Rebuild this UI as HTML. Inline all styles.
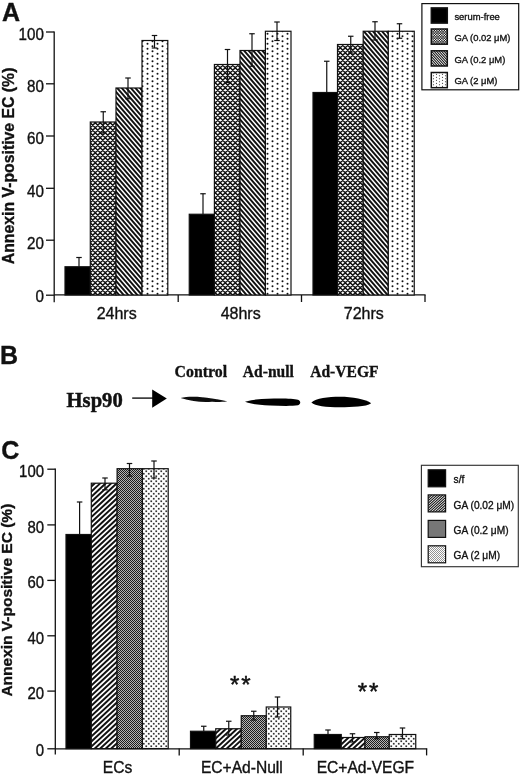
<!DOCTYPE html>
<html lang="en"><head><meta charset="utf-8"><title>Figure</title>
<style>
html,body{margin:0;padding:0;background:#fff;}
body{width:520px;height:775px;overflow:hidden;font-family:"Liberation Sans",Arial,sans-serif;}
svg{display:block;}
text{stroke:#111;stroke-width:0.35px;}
</style></head><body>
<svg width="520" height="775" viewBox="0 0 520 775">
<defs>
<pattern id="pCross" width="5" height="5" patternUnits="userSpaceOnUse"><rect width="5" height="5" fill="#fff"/><path d="M-15,-2 L-2,-15 M-19.5,-2 L-10.5,7 M-10,-2 L-2,-10 M-14.5,-2 L-5.5,7 M-5,-2 L-2,-5 M-9.5,-2 L-0.5,7 M0,-2 L-2,0 M-4.5,-2 L4.5,7 M5,-2 L-2,5 M0.5,-2 L9.5,7 M10,-2 L-2,10 M5.5,-2 L14.5,7 M15,-2 L-2,15 M10.5,-2 L19.5,7 M20,-2 L-2,20 M15.5,-2 L24.5,7 M25,-2 L-2,25 M20.5,-2 L29.5,7" stroke="#111" stroke-width="1.5" fill="none"/></pattern>
<pattern id="pCrossS" width="5" height="5" patternUnits="userSpaceOnUse"><rect width="5" height="5" fill="#151515"/><circle cx="0.62" cy="0.62" r="0.72" fill="#fff"/><circle cx="1.88" cy="1.88" r="0.72" fill="#fff"/><circle cx="0.62" cy="3.12" r="0.72" fill="#fff"/><circle cx="1.88" cy="4.38" r="0.72" fill="#fff"/><circle cx="3.12" cy="0.62" r="0.72" fill="#fff"/><circle cx="4.38" cy="1.88" r="0.72" fill="#fff"/><circle cx="3.12" cy="3.12" r="0.72" fill="#fff"/><circle cx="4.38" cy="4.38" r="0.72" fill="#fff"/></pattern>
<pattern id="pDiagA" width="91" height="21" patternUnits="userSpaceOnUse"><rect width="91" height="21" fill="#fff"/><path d="M-4.55,-120.75 L95.55,-5.25 M-4.55,-115.5 L95.55,0 M-4.55,-110.25 L95.55,5.25 M-4.55,-105 L95.55,10.5 M-4.55,-99.75 L95.55,15.75 M-4.55,-94.5 L95.55,21 M-4.55,-89.25 L95.55,26.25 M-4.55,-84 L95.55,31.5 M-4.55,-78.75 L95.55,36.75 M-4.55,-73.5 L95.55,42 M-4.55,-68.25 L95.55,47.25 M-4.55,-63 L95.55,52.5 M-4.55,-57.75 L95.55,57.75 M-4.55,-52.5 L95.55,63 M-4.55,-47.25 L95.55,68.25 M-4.55,-42 L95.55,73.5 M-4.55,-36.75 L95.55,78.75 M-4.55,-31.5 L95.55,84 M-4.55,-26.25 L95.55,89.25 M-4.55,-21 L95.55,94.5 M-4.55,-15.75 L95.55,99.75 M-4.55,-10.5 L95.55,105 M-4.55,-5.25 L95.55,110.25 M-4.55,0 L95.55,115.5 M-4.55,5.25 L95.55,120.75 M-4.55,10.5 L95.55,126 M-4.55,15.75 L95.55,131.25 M-4.55,21 L95.55,136.5 M-4.55,26.25 L95.55,141.75 M-4.55,31.5 L95.55,147 M-4.55,36.75 L95.55,152.25 M-4.55,42 L95.55,157.5 M-4.55,47.25 L95.55,162.75 M-4.55,52.5 L95.55,168 M-4.55,57.75 L95.55,173.25 M-4.55,63 L95.55,178.5 M-4.55,68.25 L95.55,183.75 M-4.55,73.5 L95.55,189 M-4.55,78.75 L95.55,194.25 M-4.55,84 L95.55,199.5 M-4.55,89.25 L95.55,204.75 M-4.55,94.5 L95.55,210 M-4.55,99.75 L95.55,215.25 M-4.55,105 L95.55,220.5 M-4.55,110.25 L95.55,225.75 M-4.55,115.5 L95.55,231 M-4.55,120.75 L95.55,236.25 M-4.55,126 L95.55,241.5 M-4.55,131.25 L95.55,246.75" stroke="#111" stroke-width="1.95" fill="none"/></pattern>
<pattern id="pDiagAS" width="10" height="11" patternUnits="userSpaceOnUse"><rect width="10" height="11" fill="#fff"/><path d="M-2.5,-19.25 L12.5,-2.75 M-2.5,-16.5 L12.5,0 M-2.5,-13.75 L12.5,2.75 M-2.5,-11 L12.5,5.5 M-2.5,-8.25 L12.5,8.25 M-2.5,-5.5 L12.5,11 M-2.5,-2.75 L12.5,13.75 M-2.5,0 L12.5,16.5 M-2.5,2.75 L12.5,19.25 M-2.5,5.5 L12.5,22 M-2.5,8.25 L12.5,24.75 M-2.5,11 L12.5,27.5 M-2.5,13.75 L12.5,30.25 M-2.5,16.5 L12.5,33 M-2.5,19.25 L12.5,35.75 M-2.5,22 L12.5,38.5 M-2.5,24.75 L12.5,41.25" stroke="#111" stroke-width="1.05" fill="none"/></pattern>
<pattern id="pDotA" width="10" height="5" patternUnits="userSpaceOnUse"><rect width="10" height="5" fill="#fff"/><circle cx="2.5" cy="1.25" r="1.0" fill="#111"/><circle cx="7.5" cy="3.75" r="1.0" fill="#111"/></pattern>
<pattern id="pDotAS" width="6" height="3" patternUnits="userSpaceOnUse"><rect width="6" height="3" fill="#fff"/><circle cx="1.5" cy="0.75" r="0.6" fill="#222"/><circle cx="4.5" cy="2.25" r="0.6" fill="#222"/></pattern>
<pattern id="pDiagC" width="11" height="51" patternUnits="userSpaceOnUse"><rect width="11" height="51" fill="#fff"/><path d="M-5.5,-15.3 L16.5,-35.7 M-5.5,-10.2 L16.5,-30.6 M-5.5,-5.1 L16.5,-25.5 M-5.5,0 L16.5,-20.4 M-5.5,5.1 L16.5,-15.3 M-5.5,10.2 L16.5,-10.2 M-5.5,15.3 L16.5,-5.1 M-5.5,20.4 L16.5,0 M-5.5,25.5 L16.5,5.1 M-5.5,30.6 L16.5,10.2 M-5.5,35.7 L16.5,15.3 M-5.5,40.8 L16.5,20.4 M-5.5,45.9 L16.5,25.5 M-5.5,51 L16.5,30.6 M-5.5,56.1 L16.5,35.7 M-5.5,61.2 L16.5,40.8 M-5.5,66.3 L16.5,45.9 M-5.5,71.4 L16.5,51 M-5.5,76.5 L16.5,56.1" stroke="#111" stroke-width="1.95" fill="none"/></pattern>
<pattern id="pDiagCS" width="11" height="10" patternUnits="userSpaceOnUse"><rect width="11" height="10" fill="#fff"/><path d="M-2.75,-12.5 L13.75,-27.5 M-2.75,-10 L13.75,-25 M-2.75,-7.5 L13.75,-22.5 M-2.75,-5 L13.75,-20 M-2.75,-2.5 L13.75,-17.5 M-2.75,0 L13.75,-15 M-2.75,2.5 L13.75,-12.5 M-2.75,5 L13.75,-10 M-2.75,7.5 L13.75,-7.5 M-2.75,10 L13.75,-5 M-2.75,12.5 L13.75,-2.5 M-2.75,15 L13.75,0 M-2.75,17.5 L13.75,2.5 M-2.75,20 L13.75,5 M-2.75,22.5 L13.75,7.5 M-2.75,25 L13.75,10 M-2.75,27.5 L13.75,12.5" stroke="#111" stroke-width="1.05" fill="none"/></pattern>
<pattern id="pGrayC" width="2" height="2" patternUnits="userSpaceOnUse" shape-rendering="crispEdges"><rect width="2" height="2" fill="#b4b4b4"/><rect width="1" height="1" fill="#1c1c1c"/><rect x="1" y="1" width="1" height="1" fill="#1c1c1c"/></pattern>
<pattern id="pDotC" width="5" height="5" patternUnits="userSpaceOnUse"><rect width="5" height="5" fill="#fff"/><rect x="0.4" y="0.4" width="1.7" height="1.7" fill="#333"/><rect x="2.9" y="2.9" width="1.7" height="1.7" fill="#333"/></pattern>
<pattern id="pDotCS" width="2" height="2" patternUnits="userSpaceOnUse"><rect width="2" height="2" fill="#fff"/><rect x="0.1" y="0.1" width="0.8" height="0.8" fill="#555"/><rect x="1.1" y="1.1" width="0.8" height="0.8" fill="#555"/></pattern>
<filter id="blur1" x="-20%" y="-150%" width="140%" height="400%"><feGaussianBlur stdDeviation="0.6"/></filter>
<filter id="blur2" x="-20%" y="-100%" width="140%" height="300%"><feGaussianBlur stdDeviation="0.7"/></filter>
</defs>
<rect width="520" height="775" fill="#fff"/>
<text x="1.9" y="20.8" font-size="25" text-anchor="start" font-family="Liberation Sans, Arial, sans-serif" font-weight="bold" fill="#111" >A</text>
<line x1="54.2" y1="31.4" x2="54.2" y2="302.3" stroke="#111" stroke-width="1.3"/>
<line x1="46" y1="32" x2="54.2" y2="32" stroke="#111" stroke-width="1.3"/>
<text transform="translate(43.9,40.2) scale(0.95,1)" font-size="16" text-anchor="end" font-family="Liberation Sans, Arial, sans-serif" fill="#111" >100</text>
<line x1="46" y1="83.8" x2="54.2" y2="83.8" stroke="#111" stroke-width="1.3"/>
<text transform="translate(43.9,91.6) scale(0.95,1)" font-size="16" text-anchor="end" font-family="Liberation Sans, Arial, sans-serif" fill="#111" >80</text>
<line x1="46" y1="136" x2="54.2" y2="136" stroke="#111" stroke-width="1.3"/>
<text transform="translate(43.9,144.2) scale(0.95,1)" font-size="16" text-anchor="end" font-family="Liberation Sans, Arial, sans-serif" fill="#111" >60</text>
<line x1="46" y1="188.3" x2="54.2" y2="188.3" stroke="#111" stroke-width="1.3"/>
<text transform="translate(43.9,196.5) scale(0.95,1)" font-size="16" text-anchor="end" font-family="Liberation Sans, Arial, sans-serif" fill="#111" >40</text>
<line x1="46" y1="240.2" x2="54.2" y2="240.2" stroke="#111" stroke-width="1.3"/>
<text transform="translate(43.9,248.7) scale(0.95,1)" font-size="16" text-anchor="end" font-family="Liberation Sans, Arial, sans-serif" fill="#111" >20</text>
<line x1="46" y1="295.2" x2="54.2" y2="295.2" stroke="#111" stroke-width="1.3"/>
<text transform="translate(43.9,302.2) scale(0.95,1)" font-size="16" text-anchor="end" font-family="Liberation Sans, Arial, sans-serif" fill="#111" >0</text>
<line x1="54.2" y1="294.9" x2="425.6" y2="294.9" stroke="#111" stroke-width="1.4"/>
<line x1="178.2" y1="295" x2="178.2" y2="302" stroke="#111" stroke-width="1.3"/>
<line x1="301.5" y1="295" x2="301.5" y2="302" stroke="#111" stroke-width="1.3"/>
<line x1="425" y1="295" x2="425" y2="302" stroke="#111" stroke-width="1.3"/>
<text transform="translate(14.1,264.2) rotate(-90)" font-size="15.8" font-weight="bold" font-family="Liberation Sans, Arial, sans-serif" fill="#111">Annexin V-positive EC (%)</text>
<rect x="65" y="266.75" width="25.3" height="28.25" fill="#000" stroke="#111" stroke-width="1.2"/>
<rect x="90.3" y="122" width="25.7" height="173" fill="url(#pCross)" stroke="#111" stroke-width="1.2"/>
<rect x="116" y="88" width="26" height="207" fill="url(#pDiagA)" stroke="#111" stroke-width="1.2"/>
<rect x="142" y="40.5" width="25.8" height="254.5" fill="url(#pDotA)" stroke="#111" stroke-width="1.2"/>
<rect x="189.25" y="214.25" width="25.15" height="80.75" fill="#000" stroke="#111" stroke-width="1.2"/>
<rect x="214.4" y="64.5" width="25.6" height="230.5" fill="url(#pCross)" stroke="#111" stroke-width="1.2"/>
<rect x="240" y="50.5" width="25.4" height="244.5" fill="url(#pDiagA)" stroke="#111" stroke-width="1.2"/>
<rect x="265.4" y="31.25" width="25.6" height="263.75" fill="url(#pDotA)" stroke="#111" stroke-width="1.2"/>
<rect x="313" y="92.5" width="24.5" height="202.5" fill="#000" stroke="#111" stroke-width="1.2"/>
<rect x="337.5" y="44.5" width="25.7" height="250.5" fill="url(#pCross)" stroke="#111" stroke-width="1.2"/>
<rect x="363.2" y="31.25" width="25.1" height="263.75" fill="url(#pDiagA)" stroke="#111" stroke-width="1.2"/>
<rect x="388.3" y="31.25" width="25.95" height="263.75" fill="url(#pDotA)" stroke="#111" stroke-width="1.2"/>
<line x1="79" y1="257.5" x2="79" y2="266.75" stroke="#111" stroke-width="1.2"/>
<line x1="76.25" y1="257.5" x2="81.75" y2="257.5" stroke="#111" stroke-width="1.2"/>
<line x1="103.25" y1="111.75" x2="103.25" y2="133" stroke="#111" stroke-width="1.2"/>
<line x1="100.5" y1="111.75" x2="106" y2="111.75" stroke="#111" stroke-width="1.2"/>
<line x1="100.5" y1="133" x2="106" y2="133" stroke="#111" stroke-width="1.2"/>
<line x1="128" y1="78" x2="128" y2="98.75" stroke="#111" stroke-width="1.2"/>
<line x1="125.25" y1="78" x2="130.75" y2="78" stroke="#111" stroke-width="1.2"/>
<line x1="125.25" y1="98.75" x2="130.75" y2="98.75" stroke="#111" stroke-width="1.2"/>
<line x1="154.5" y1="35.5" x2="154.5" y2="48" stroke="#111" stroke-width="1.2"/>
<line x1="151.75" y1="35.5" x2="157.25" y2="35.5" stroke="#111" stroke-width="1.2"/>
<line x1="151.75" y1="48" x2="157.25" y2="48" stroke="#111" stroke-width="1.2"/>
<line x1="203" y1="193.75" x2="203" y2="214.25" stroke="#111" stroke-width="1.2"/>
<line x1="200.25" y1="193.75" x2="205.75" y2="193.75" stroke="#111" stroke-width="1.2"/>
<line x1="227.5" y1="49.5" x2="227.5" y2="82.5" stroke="#111" stroke-width="1.2"/>
<line x1="224.75" y1="49.5" x2="230.25" y2="49.5" stroke="#111" stroke-width="1.2"/>
<line x1="224.75" y1="82.5" x2="230.25" y2="82.5" stroke="#111" stroke-width="1.2"/>
<line x1="252" y1="33.75" x2="252" y2="66.25" stroke="#111" stroke-width="1.2"/>
<line x1="249.25" y1="33.75" x2="254.75" y2="33.75" stroke="#111" stroke-width="1.2"/>
<line x1="249.25" y1="66.25" x2="254.75" y2="66.25" stroke="#111" stroke-width="1.2"/>
<line x1="277" y1="22" x2="277" y2="40.5" stroke="#111" stroke-width="1.2"/>
<line x1="274.25" y1="22" x2="279.75" y2="22" stroke="#111" stroke-width="1.2"/>
<line x1="274.25" y1="40.5" x2="279.75" y2="40.5" stroke="#111" stroke-width="1.2"/>
<line x1="326.75" y1="61.25" x2="326.75" y2="92.5" stroke="#111" stroke-width="1.2"/>
<line x1="324" y1="61.25" x2="329.5" y2="61.25" stroke="#111" stroke-width="1.2"/>
<line x1="350.75" y1="36.25" x2="350.75" y2="53" stroke="#111" stroke-width="1.2"/>
<line x1="348" y1="36.25" x2="353.5" y2="36.25" stroke="#111" stroke-width="1.2"/>
<line x1="348" y1="53" x2="353.5" y2="53" stroke="#111" stroke-width="1.2"/>
<line x1="375" y1="21.75" x2="375" y2="40" stroke="#111" stroke-width="1.2"/>
<line x1="372.25" y1="21.75" x2="377.75" y2="21.75" stroke="#111" stroke-width="1.2"/>
<line x1="372.25" y1="40" x2="377.75" y2="40" stroke="#111" stroke-width="1.2"/>
<line x1="399.5" y1="23.75" x2="399.5" y2="38.25" stroke="#111" stroke-width="1.2"/>
<line x1="396.75" y1="23.75" x2="402.25" y2="23.75" stroke="#111" stroke-width="1.2"/>
<line x1="396.75" y1="38.25" x2="402.25" y2="38.25" stroke="#111" stroke-width="1.2"/>
<text x="116.7" y="319.2" font-size="16" text-anchor="middle" font-family="Liberation Sans, Arial, sans-serif" fill="#111" >24hrs</text>
<text x="240.7" y="319.2" font-size="16" text-anchor="middle" font-family="Liberation Sans, Arial, sans-serif" fill="#111" >48hrs</text>
<text x="363.8" y="319.2" font-size="16" text-anchor="middle" font-family="Liberation Sans, Arial, sans-serif" fill="#111" >72hrs</text>
<rect x="421.9" y="3.6" width="96.8" height="86.2" fill="#fff" stroke="#111" stroke-width="1.2"/>
<rect x="431.3" y="7.9" width="16" height="15.2" fill="#000" stroke="#111" stroke-width="1.5"/>
<text transform="translate(454.4,19.8) scale(0.97,1)" font-size="9.7" text-anchor="start" font-family="Liberation Sans, Arial, sans-serif" fill="#111" >serum-free</text>
<rect x="431.3" y="29" width="16" height="15.2" fill="url(#pCrossS)" stroke="#111" stroke-width="1.5"/>
<text transform="translate(454.4,41.3) scale(0.97,1)" font-size="9.7" text-anchor="start" font-family="Liberation Sans, Arial, sans-serif" fill="#111" >GA (0.02 μM)</text>
<rect x="431.3" y="50.8" width="16" height="15.2" fill="url(#pDiagAS)" stroke="#111" stroke-width="1.5"/>
<text transform="translate(454.4,62.7) scale(0.97,1)" font-size="9.7" text-anchor="start" font-family="Liberation Sans, Arial, sans-serif" fill="#111" >GA (0.2 μM)</text>
<rect x="431.3" y="72.5" width="16" height="15.2" fill="url(#pDotAS)" stroke="#111" stroke-width="1.5"/>
<text transform="translate(454.4,84.2) scale(0.97,1)" font-size="9.7" text-anchor="start" font-family="Liberation Sans, Arial, sans-serif" fill="#111" >GA (2 μM)</text>
<text x="0.1" y="364.2" font-size="25" text-anchor="start" font-family="Liberation Sans, Arial, sans-serif" font-weight="bold" fill="#111" >B</text>
<text transform="translate(66.6,407.1) scale(0.937,1)" font-size="22" text-anchor="start" font-family="Liberation Serif, Times New Roman, serif" font-weight="bold" fill="#111" style="stroke-width:0.5px">Hsp90</text>
<line x1="132.2" y1="398.1" x2="153" y2="398.1" stroke="#111" stroke-width="1.4"/>
<path d="M152.2,389.6 L166.8,398.4 L152.2,407.7 Z" fill="#000"/>
<text transform="translate(174.6,376.8) scale(0.965,1)" font-size="16.4" text-anchor="start" font-family="Liberation Serif, Times New Roman, serif" font-weight="bold" fill="#111" >Control</text>
<text transform="translate(242.8,376.7) scale(0.95,1)" font-size="16.4" text-anchor="start" font-family="Liberation Serif, Times New Roman, serif" font-weight="bold" fill="#111" >Ad-null</text>
<text transform="translate(310.2,376.7) scale(0.95,1)" font-size="16.4" text-anchor="start" font-family="Liberation Serif, Times New Roman, serif" font-weight="bold" fill="#111" >Ad-VEGF</text>
<g filter="url(#blur1)"><path d="M180.6,398 C188,396.1 200,396.5 212,398.5 C219,399.7 224,400.4 227.3,401.3 C224,402.2 218,402 212,401.7 C203,402.4 192,401.7 180.6,398 Z" fill="#0a0a0a"/></g>
<g filter="url(#blur2)"><path d="M245,401.8 C252,399.4 262,398.7 274,398.5 C284,398.3 294,398.5 298,399.8 C301,401 301,404.2 298,405.3 C292,406.3 280,405.9 270,405.6 C260,405.3 251,404.2 245,401.8 Z" fill="#050505"/></g>
<g filter="url(#blur2)"><path d="M311.4,402.5 C316,398.2 328,396.8 340,396.8 C352,396.8 366,399.2 371.2,403.3 C366,406.9 352,407.2 340,407.2 C326,407.2 315,406.1 311.4,402.5 Z" fill="#050505"/></g>
<text x="1.2" y="459.3" font-size="25" text-anchor="start" font-family="Liberation Sans, Arial, sans-serif" font-weight="bold" fill="#111" >C</text>
<line x1="55.3" y1="468.6" x2="55.3" y2="754.4" stroke="#111" stroke-width="1.3"/>
<line x1="47.3" y1="469.2" x2="55.3" y2="469.2" stroke="#111" stroke-width="1.3"/>
<text transform="translate(44,477.1) scale(0.94,1)" font-size="15.9" text-anchor="end" font-family="Liberation Sans, Arial, sans-serif" fill="#111" >100</text>
<line x1="47.3" y1="524.9" x2="55.3" y2="524.9" stroke="#111" stroke-width="1.3"/>
<text transform="translate(44,532.6) scale(0.94,1)" font-size="15.9" text-anchor="end" font-family="Liberation Sans, Arial, sans-serif" fill="#111" >80</text>
<line x1="47.3" y1="580.4" x2="55.3" y2="580.4" stroke="#111" stroke-width="1.3"/>
<text transform="translate(44,588.2) scale(0.94,1)" font-size="15.9" text-anchor="end" font-family="Liberation Sans, Arial, sans-serif" fill="#111" >60</text>
<line x1="47.3" y1="635.8" x2="55.3" y2="635.8" stroke="#111" stroke-width="1.3"/>
<text transform="translate(44,643.6) scale(0.94,1)" font-size="15.9" text-anchor="end" font-family="Liberation Sans, Arial, sans-serif" fill="#111" >40</text>
<line x1="47.3" y1="691.1" x2="55.3" y2="691.1" stroke="#111" stroke-width="1.3"/>
<text transform="translate(44,698.9) scale(0.94,1)" font-size="15.9" text-anchor="end" font-family="Liberation Sans, Arial, sans-serif" fill="#111" >20</text>
<line x1="47.3" y1="748.8" x2="55.3" y2="748.8" stroke="#111" stroke-width="1.3"/>
<text transform="translate(44,755.5) scale(0.94,1)" font-size="15.9" text-anchor="end" font-family="Liberation Sans, Arial, sans-serif" fill="#111" >0</text>
<line x1="55.3" y1="748.8" x2="427.2" y2="748.8" stroke="#111" stroke-width="1.3"/>
<line x1="179.2" y1="748.6" x2="179.2" y2="755.4" stroke="#111" stroke-width="1.3"/>
<line x1="303.2" y1="748.6" x2="303.2" y2="755.4" stroke="#111" stroke-width="1.3"/>
<line x1="426.6" y1="748.6" x2="426.6" y2="755.4" stroke="#111" stroke-width="1.3"/>
<text transform="translate(12,696.6) rotate(-90)" font-size="15.5" font-weight="bold" font-family="Liberation Sans, Arial, sans-serif" fill="#111">Annexin V-positive EC (%)</text>
<rect x="66" y="534.5" width="25.3" height="214.1" fill="#000" stroke="#111" stroke-width="1.2"/>
<rect x="91.3" y="483.2" width="25.8" height="265.4" fill="url(#pDiagC)" stroke="#111" stroke-width="1.2"/>
<rect x="117.1" y="468.7" width="25.3" height="279.9" fill="url(#pGrayC)" stroke="#111" stroke-width="1.2"/>
<rect x="142.4" y="468.7" width="25.8" height="279.9" fill="url(#pDotC)" stroke="#111" stroke-width="1.2"/>
<rect x="190.5" y="731.25" width="25.25" height="17.35" fill="#000" stroke="#111" stroke-width="1.2"/>
<rect x="215.75" y="728.75" width="25.5" height="19.85" fill="url(#pDiagC)" stroke="#111" stroke-width="1.2"/>
<rect x="241.25" y="715.75" width="25" height="32.85" fill="url(#pGrayC)" stroke="#111" stroke-width="1.2"/>
<rect x="266.25" y="707" width="24.5" height="41.6" fill="url(#pDotC)" stroke="#111" stroke-width="1.2"/>
<rect x="314.25" y="734.5" width="27" height="14.1" fill="#000" stroke="#111" stroke-width="1.2"/>
<rect x="341.25" y="737.5" width="23.75" height="11.1" fill="url(#pDiagC)" stroke="#111" stroke-width="1.2"/>
<rect x="365" y="736.75" width="24.25" height="11.85" fill="url(#pGrayC)" stroke="#111" stroke-width="1.2"/>
<rect x="389.25" y="734.5" width="26.5" height="14.1" fill="url(#pDotC)" stroke="#111" stroke-width="1.2"/>
<line x1="79.6" y1="502" x2="79.6" y2="534.5" stroke="#111" stroke-width="1.2"/>
<line x1="76.85" y1="502" x2="82.35" y2="502" stroke="#111" stroke-width="1.2"/>
<line x1="105" y1="478" x2="105" y2="489.8" stroke="#111" stroke-width="1.2"/>
<line x1="102.25" y1="478" x2="107.75" y2="478" stroke="#111" stroke-width="1.2"/>
<line x1="102.25" y1="489.8" x2="107.75" y2="489.8" stroke="#111" stroke-width="1.2"/>
<line x1="129.5" y1="463.5" x2="129.5" y2="476" stroke="#111" stroke-width="1.2"/>
<line x1="126.75" y1="463.5" x2="132.25" y2="463.5" stroke="#111" stroke-width="1.2"/>
<line x1="126.75" y1="476" x2="132.25" y2="476" stroke="#111" stroke-width="1.2"/>
<line x1="154" y1="461" x2="154" y2="478" stroke="#111" stroke-width="1.2"/>
<line x1="151.25" y1="461" x2="156.75" y2="461" stroke="#111" stroke-width="1.2"/>
<line x1="151.25" y1="478" x2="156.75" y2="478" stroke="#111" stroke-width="1.2"/>
<line x1="203.75" y1="726.25" x2="203.75" y2="731.25" stroke="#111" stroke-width="1.2"/>
<line x1="201" y1="726.25" x2="206.5" y2="726.25" stroke="#111" stroke-width="1.2"/>
<line x1="228.75" y1="721.25" x2="228.75" y2="735" stroke="#111" stroke-width="1.2"/>
<line x1="226" y1="721.25" x2="231.5" y2="721.25" stroke="#111" stroke-width="1.2"/>
<line x1="226" y1="735" x2="231.5" y2="735" stroke="#111" stroke-width="1.2"/>
<line x1="253.75" y1="711.25" x2="253.75" y2="720" stroke="#111" stroke-width="1.2"/>
<line x1="251" y1="711.25" x2="256.5" y2="711.25" stroke="#111" stroke-width="1.2"/>
<line x1="251" y1="720" x2="256.5" y2="720" stroke="#111" stroke-width="1.2"/>
<line x1="277.5" y1="697" x2="277.5" y2="717" stroke="#111" stroke-width="1.2"/>
<line x1="274.75" y1="697" x2="280.25" y2="697" stroke="#111" stroke-width="1.2"/>
<line x1="274.75" y1="717" x2="280.25" y2="717" stroke="#111" stroke-width="1.2"/>
<line x1="328" y1="730" x2="328" y2="734.5" stroke="#111" stroke-width="1.2"/>
<line x1="325.25" y1="730" x2="330.75" y2="730" stroke="#111" stroke-width="1.2"/>
<line x1="352.5" y1="733.75" x2="352.5" y2="742" stroke="#111" stroke-width="1.2"/>
<line x1="349.75" y1="733.75" x2="355.25" y2="733.75" stroke="#111" stroke-width="1.2"/>
<line x1="349.75" y1="742" x2="355.25" y2="742" stroke="#111" stroke-width="1.2"/>
<line x1="376.75" y1="732.5" x2="376.75" y2="738.75" stroke="#111" stroke-width="1.2"/>
<line x1="374" y1="732.5" x2="379.5" y2="732.5" stroke="#111" stroke-width="1.2"/>
<line x1="374" y1="738.75" x2="379.5" y2="738.75" stroke="#111" stroke-width="1.2"/>
<line x1="402.5" y1="728" x2="402.5" y2="738.75" stroke="#111" stroke-width="1.2"/>
<line x1="399.75" y1="728" x2="405.25" y2="728" stroke="#111" stroke-width="1.2"/>
<line x1="399.75" y1="738.75" x2="405.25" y2="738.75" stroke="#111" stroke-width="1.2"/>
<text x="117.5" y="772.7" font-size="15.6" text-anchor="middle" font-family="Liberation Sans, Arial, sans-serif" fill="#111" >ECs</text>
<text x="241.85" y="772.7" font-size="15.6" text-anchor="middle" font-family="Liberation Sans, Arial, sans-serif" fill="#111" >EC+Ad-Null</text>
<text x="365.4" y="772.7" font-size="15.6" text-anchor="middle" font-family="Liberation Sans, Arial, sans-serif" fill="#111" >EC+Ad-VEGF</text>
<text x="241.2" y="692.6" font-size="24" text-anchor="middle" font-family="Liberation Sans, Arial, sans-serif" fill="#111" letter-spacing="1.9" style="stroke-width:0.5px">**</text>
<text x="368.9" y="700.3" font-size="24" text-anchor="middle" font-family="Liberation Sans, Arial, sans-serif" fill="#111" letter-spacing="1.9" style="stroke-width:0.5px">**</text>
<rect x="421.4" y="465.3" width="96.9" height="101.4" fill="#fff" stroke="#333" stroke-width="1.15"/>
<rect x="428.2" y="469.8" width="17.4" height="17.0" fill="#000" stroke="#111" stroke-width="1.2"/>
<text transform="translate(453.6,483) scale(0.95,1)" font-size="10.7" text-anchor="start" font-family="Liberation Sans, Arial, sans-serif" fill="#111" >s/f</text>
<rect x="428.2" y="494.9" width="17.4" height="17.0" fill="url(#pDiagCS)" stroke="#111" stroke-width="1.2"/>
<text transform="translate(453.6,509.3) scale(0.95,1)" font-size="10.7" text-anchor="start" font-family="Liberation Sans, Arial, sans-serif" fill="#111" >GA (0.02 μM)</text>
<rect x="428.2" y="520.4" width="17.4" height="17.0" fill="#777" stroke="#111" stroke-width="1.2"/>
<text transform="translate(453.6,533.9) scale(0.95,1)" font-size="10.7" text-anchor="start" font-family="Liberation Sans, Arial, sans-serif" fill="#111" >GA (0.2 μM)</text>
<rect x="428.2" y="545.8" width="17.4" height="17.0" fill="url(#pDotCS)" stroke="#111" stroke-width="1.2"/>
<text transform="translate(453.6,559.1) scale(0.95,1)" font-size="10.7" text-anchor="start" font-family="Liberation Sans, Arial, sans-serif" fill="#111" >GA (2 μM)</text>
</svg></body></html>
